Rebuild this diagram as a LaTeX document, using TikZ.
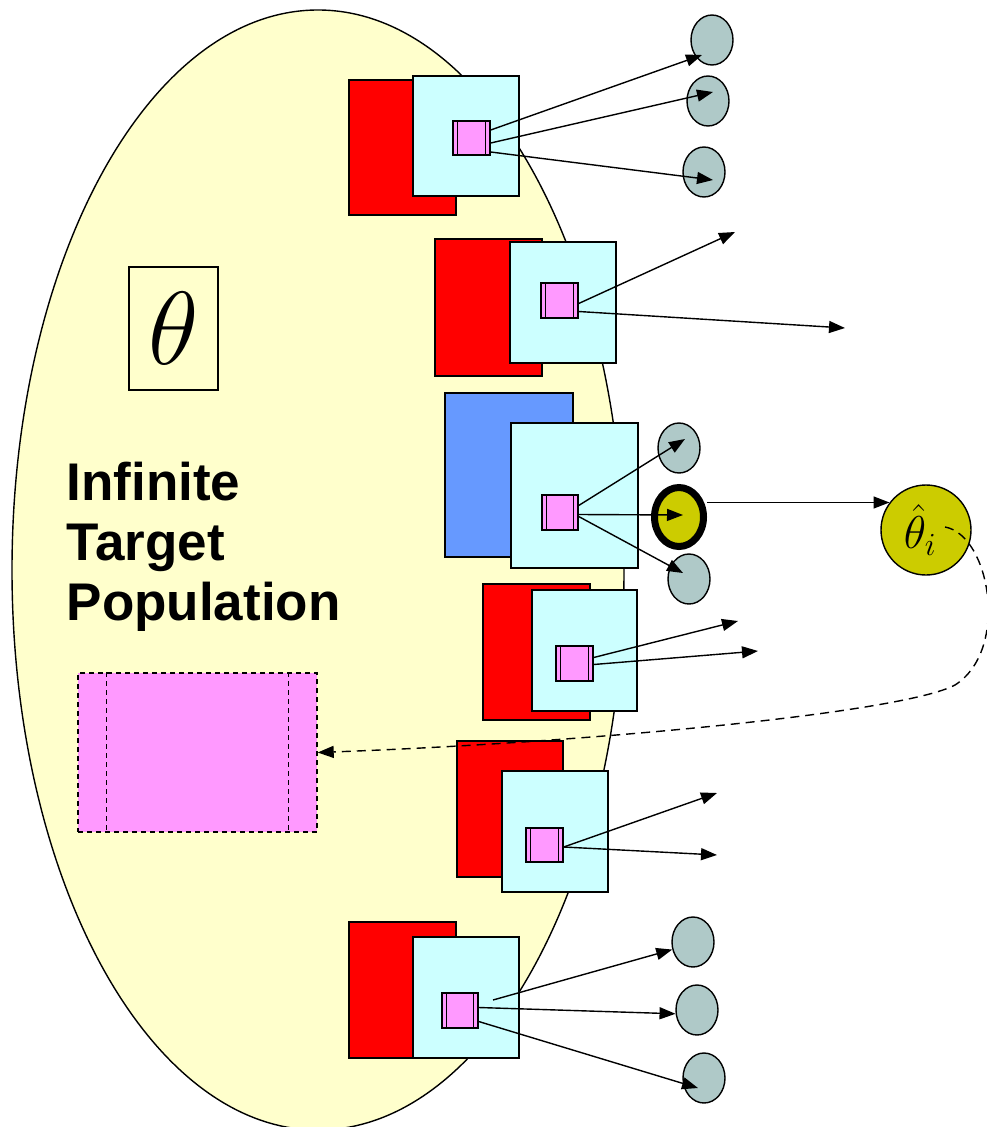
\RequirePackage{fix-cm}
\documentclass[tikz,border=0pt]{standalone}
\usepackage{fontspec}
\newfontfamily\labelfont{Liberation Sans}
\usepackage{tikz}
\usetikzlibrary{shapes.geometric, arrows.meta}

\definecolor{popyellow}{HTML}{FFFFCC}
\definecolor{unitcyan}{HTML}{CCFFFF}
\definecolor{itempink}{HTML}{FF99FF}
\definecolor{backblue}{HTML}{6699FF}
\definecolor{outgray}{HTML}{AFC9C8}
\definecolor{estyellow}{HTML}{CCCC00}

\begin{document}
\begin{tikzpicture}[x=1pt, y=-1pt, line width=1.4pt,
  backbox/.style={draw, fill=red, inner sep=0pt},
  unitbox/.style={draw, fill=unitcyan, inner sep=0pt, minimum width=106, minimum height=121},
  itembox/.style={draw, fill=itempink, inner sep=0pt, minimum width=37, minimum height=35,
    path picture={\draw[line width=1.1pt]
      ([xshift=4.5pt]path picture bounding box.north west) -- ([xshift=4.5pt]path picture bounding box.south west)
      ([xshift=-4.5pt]path picture bounding box.north east) -- ([xshift=-4.5pt]path picture bounding box.south east);}},
  outcome/.style={ellipse, draw, fill=outgray, inner sep=0pt, minimum width=42, minimum height=50},
  arr/.style={-{Triangle[length=16pt, width=12pt]}}]
  % ----- Frame: keep the page at the size of the original -----
  \useasboundingbox (0,0) rectangle (987,1127);

  % ----- Left Side: the population -----
  \filldraw[fill=popyellow] (318,570) ellipse [x radius=306pt, y radius=560pt];
  \node[draw, inner sep=0pt, minimum width=89, minimum height=123,
        font=\fontsize{104}{104}\selectfont] (param) at (173.5,328.5) {$\theta$};
  \node[anchor=north west, align=left, inner sep=0pt,
        font=\labelfont\bfseries\fontsize{53}{60}\selectfont] (poplabel) at (66,461)
        {Infinite\\Target\\Population};
  \node[draw, fill=itempink, inner sep=0pt, minimum width=239, minimum height=159,
        dash pattern=on 5pt off 4pt] (pooled) at (197.5,752.5) {};
  \draw[dash pattern=on 5pt off 4pt]
    ([xshift=29pt]pooled.north west) -- ([xshift=29pt]pooled.south west)
    ([xshift=-29pt]pooled.north east) -- ([xshift=-29pt]pooled.south east);

  % ----- Samples, one per row -----
  \node[backbox, minimum width=107, minimum height=135] (back1) at (402.5,147.5) {};
  \node[unitbox, minimum height=120] (unit1) at (466,136) {};
  \node[itembox, minimum height=34] (item1) at (471.5,138) {};

  \node[backbox, minimum width=107, minimum height=137] (back2) at (488.5,307.5) {};
  \node[unitbox] (unit2) at (563,302.5) {};
  \node[itembox] (item2) at (559.5,300.5) {};

  \node[backbox, fill=backblue, minimum width=128, minimum height=164] (back3) at (509,475) {};
  \node[unitbox, minimum width=127, minimum height=145] (unit3) at (574.5,495.5) {};
  \node[itembox, minimum width=36] (item3) at (560,512.5) {};

  \node[backbox, minimum width=107, minimum height=136] (back4) at (536.5,652) {};
  \node[unitbox, minimum width=105] (unit4) at (584.5,650.5) {};
  \node[itembox] (item4) at (574.5,663.5) {};

  \node[backbox, minimum width=106, minimum height=136] (back5) at (510,809) {};
  \node[unitbox] (unit5) at (555,831.5) {};
  \node[itembox, minimum height=34] (item5) at (544.5,845) {};

  \node[backbox, minimum width=107, minimum height=136] (back6) at (402.5,990) {};
  \node[unitbox] (unit6) at (466,997.5) {};
  \node[itembox, minimum width=36] (item6) at (460,1010.5) {};

  % ----- Right Side: outcomes -----
  \node[outcome] (out1a) at (712,40) {};
  \node[outcome] (out1b) at (708,101) {};
  \node[outcome] (out1c) at (704,172) {};
  \node[outcome] (out3a) at (679,448) {};
  \node[ellipse, draw, fill=estyellow, line width=7pt, inner sep=0pt,
        minimum width=49, minimum height=59] (chosen) at (679,517) {};
  \node[outcome] (out3c) at (689,579) {};
  \node[outcome] (out6a) at (693,942) {};
  \node[outcome] (out6b) at (697,1010) {};
  \node[outcome] (out6c) at (704,1078) {};
  \node[circle, draw, fill=estyellow, inner sep=0pt, minimum size=90,
        font=\fontsize{46}{46}\selectfont] (estimate) at (926,530)
        {$\hat{\theta}_i$\hspace*{12pt}};

  \coordinate (free2a) at (735,232);
  \coordinate (free2b) at (845,328);
  \coordinate (free4a) at (738,621);
  \coordinate (free4b) at (758,651);
  \coordinate (free5a) at (717,793);
  \coordinate (free5b) at (717,855);
  \coordinate (start6) at (493,1000);

  % ----- Arrows -----
  \draw[arr] ([yshift=8pt]item1.east) -- ([shift={(-10,15)}]out1a.center);
  \draw[arr] ([yshift=-5pt]item1.east) -- ([shift={(5,-9)}]out1b.center);
  \draw[arr] ([yshift=-14pt]item1.east) -- ([shift={(9,8)}]out1c.center);

  \draw[arr] ([yshift=-3pt]item2.east) -- (free2a);
  \draw[arr] ([yshift=-11pt]item2.east) -- (free2b);

  \draw[arr] ([yshift=7pt]item3.east) -- ([shift={(6,-9)}]out3a.center);
  \draw[arr] ([yshift=-2pt]item3.east) -- ([shift={(4,-2)}]chosen.center);
  \draw[arr] ([yshift=-4pt]item3.east) -- ([shift={(-6,-6)}]out3c.center);
  \draw[arr] (chosen.east |- estimate.143) -- (estimate.143);

  \draw[arr] ([yshift=6pt]item4.east) -- (free4a);
  \draw[arr] ([yshift=-1pt]item4.east) -- (free4b);

  \draw[arr] ([yshift=-2pt]item5.east) -- (free5a);
  \draw[arr] ([yshift=-2pt]item5.east) -- (free5b);

  \draw[arr] (start6) -- (out6a.200);
  \draw[arr] ([yshift=3pt]item6.east) -- (out6b.190);
  \draw[arr] ([yshift=-11pt]item6.east) -- ([shift={(-6,10)}]out6c.center);

  % estimate fed back into the pool
  \draw[arr, dash pattern=on 9pt off 6pt] ([shift={(19,-3)}]estimate.center)
    .. controls (990,535) and (1010,650) .. (955,685)
    .. controls (905,712) and (600,742) .. (pooled.east);
\end{tikzpicture}
\end{document}
